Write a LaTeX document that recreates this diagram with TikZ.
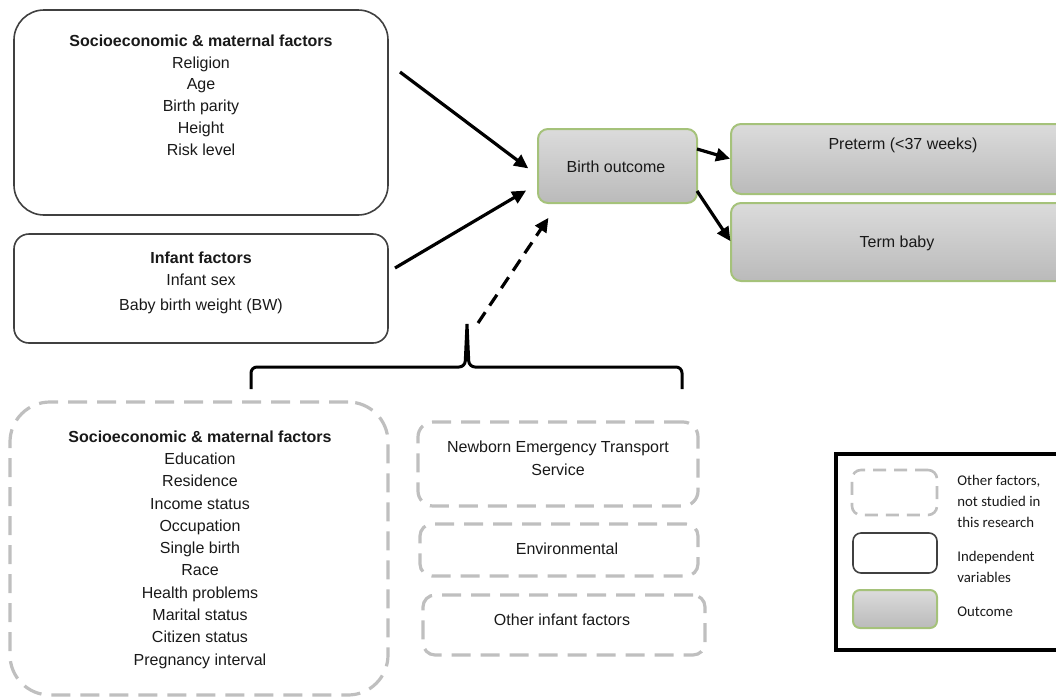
\documentclass[tikz,border=0pt]{standalone}
\usepackage{fontspec}
\setmainfont{Liberation Sans}
\newfontfamily\legfont{Carlito}
\usetikzlibrary{positioning, arrows.meta}
\definecolor{dashgray}{HTML}{BFBFBF}
\definecolor{outgreen}{HTML}{A5C27A}
\definecolor{boxline}{HTML}{404040}
\begin{document}
\begin{tikzpicture}[x=1pt, y=-1pt, thick,
    box/.style={rectangle, inner sep=0pt, outer sep=0pt},
    indep/.style={box, draw=boxline, line width=1.6pt, fill=white},
    outc/.style={box, draw=outgreen, line width=2pt, top color=black!14, bottom color=black!27},
    other/.style={box, draw=dashgray, line width=3.2pt, dash pattern=on 19pt off 10pt},
    txt/.style={align=center, inner sep=0pt, text=black!90, font=\fontsize{16}{21.8}\selectfont},
    legtxt/.style={align=left, anchor=west, inner sep=0pt, text=black!90, font=\legfont\fontsize{14.8}{21}\selectfont},
    arr/.style={-{Triangle[length=14pt, width=13pt]}, line width=3.2pt, shorten >=1pt}]
      \useasboundingbox (0,0) rectangle (1056,699);

      % Nodes
      \node[indep, rounded corners=30pt, minimum width=374pt, minimum height=205pt] (socio) at (201,112.5) {};
      \node[indep, rounded corners=15pt, minimum width=374pt, minimum height=109pt] (infant) at (201,288.5) {};
      \node[outc, rounded corners=10pt, minimum width=159pt, minimum height=74pt] (bo) at (617.5,166) {};
      \node[outc, rounded corners=10pt, minimum width=338pt, minimum height=70pt] (pre) at (900,159) {};
      \node[outc, rounded corners=10pt, minimum width=338pt, minimum height=78pt] (term) at (900,242) {};
      \node[other, rounded corners=40pt, minimum width=378pt, minimum height=293pt] (osocio) at (199,548.5) {};
      \node[other, rounded corners=15pt, minimum width=280pt, minimum height=84pt] (nets) at (558,464) {};
      \node[other, rounded corners=12pt, minimum width=278pt, minimum height=52pt] (env) at (559,550) {};
      \node[other, rounded corners=12pt, minimum width=282pt, minimum height=60pt] (oinf) at (564,625) {};

      \node[txt] (sociotxt) at (201,95) {\textbf{Socioeconomic \& maternal factors}\\Religion\\Age\\Birth parity\\Height\\Risk level};
      \node[txt] (infanttxt) at (201,283) {\textbf{Infant factors}\\Infant sex\\[4pt]Baby birth weight (BW)};
      \node[txt] (botxt) at (616,167) {Birth outcome};
      \node[txt] (pretxt) at (903,145) {Preterm (<37 weeks)};
      \node[txt] (termtxt) at (897,243) {Term baby};
      \node[txt, font=\fontsize{16}{22.3}\selectfont] (osociotxt) at (200,549.5) {\textbf{Socioeconomic \& maternal factors}\\Education\\Residence\\Income status\\Occupation\\Single birth\\Race\\Health problems\\Marital status\\Citizen status\\Pregnancy interval};
      \node[txt, font=\fontsize{16}{23}\selectfont] (netstxt) at (558,458.5) {Newborn Emergency Transport\\Service};
      \node[txt] (envtxt) at (567,549) {Environmental};
      \node[txt] (oinftxt) at (562,620) {Other infant factors};

      % Legend
      \draw[line width=3.5pt] (836,454) rectangle (1064,650);
      \node[other, line width=2.6pt, dash pattern=on 13pt off 8pt, rounded corners=9pt, minimum width=85pt, minimum height=45pt] (legother) at (894.5,492.5) {};
      \node[indep, rounded corners=8pt, minimum width=84pt, minimum height=40pt] (legindep) at (895,553) {};
      \node[outc, rounded corners=7pt, minimum width=84pt, minimum height=38pt] (legoutc) at (895,609) {};
      \node[legtxt] (legothertxt) at (957,501) {Other factors,\\not studied in\\this research};
      \node[legtxt] (legindeptxt) at (957,566.5) {Independent\\variables};
      \node[legtxt] (legoutctxt) at (957,612) {Outcome};

      % Brace
      \coordinate (bl) at (251,389);
      \coordinate (br) at (682,389);
      \coordinate (btip) at (467,324);
      \draw[line width=3pt, rounded corners=6pt] (bl) -- (251,367) -- (465,367) -- (btip)
        (btip) -- (469,367) -- (682,367) -- (br);

      % Edges
      \coordinate (s1) at (400,72);
      \coordinate (s2) at (395,268);
      \coordinate (s3) at (478,323);
      \coordinate (e1) at (529,169);
      \coordinate (e2) at (527,190);
      \coordinate (e3) at (549,217);
      \draw[arr] (s1) -- (e1);
      \draw[arr] (s2) -- (e2);
      \draw[arr, dash pattern=on 13pt off 8pt] (s3) -- (e3);
      \draw[arr] ([yshift=17pt]bo.east) -- (pre.west);
      \draw[arr] ([yshift=-25pt]bo.east) -- (term.west);
    \end{tikzpicture}
\end{document}
